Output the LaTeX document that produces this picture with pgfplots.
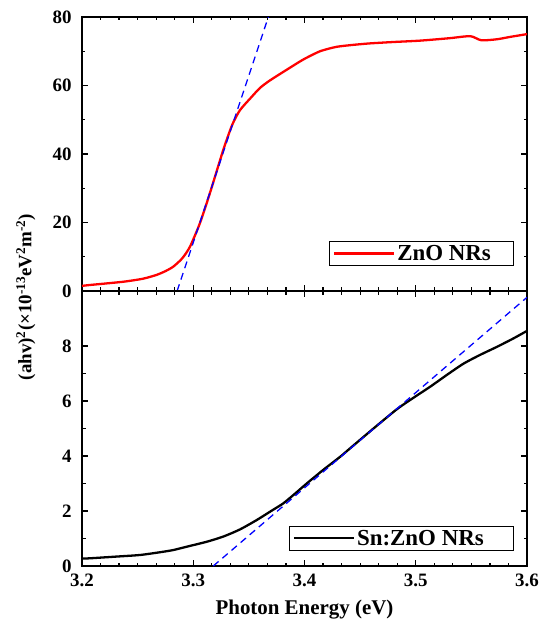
\documentclass[border=0pt]{standalone}
\usepackage{fontspec}
\setmainfont{Liberation Serif}
\usepackage{pgfplots}
\pgfplotsset{compat=1.18}
\definecolor{myred}{RGB}{255,0,0}
\definecolor{myblue}{RGB}{0,0,255}
\newcommand{\fs}[1]{\fontsize{#1}{#1}\selectfont}
\begin{document}
\begin{tikzpicture}
\useasboundingbox (-82bp,-329bp) rectangle (458bp,291bp);
\pgfplotsset{
  every axis/.append style={
    scale only axis, width=445bp,
    xmin=3.2, xmax=3.6,
    axis line style={line width=1.6pt},
    every tick/.style={line width=1.2pt, black},
    major tick length=6bp, minor tick length=3.5bp,
    tick align=inside,
    minor x tick num=5, minor y tick num=1,
    /pgf/number format/assume math mode=true,
    ticklabel style={font=\bfseries\fs{19}},
    yticklabel style={xshift=-7bp},
    legend cell align=left,
    legend image code/.code={\draw[#1] (0bp,0bp) -- (60bp,0bp);},
  }
}
\begin{axis}[
  name=top, at={(0,0)}, anchor=south west,
  height=274bp,
  ymin=0, ymax=80, ytick={0,20,40,60,80},
  xtick={3.2,3.3,3.4,3.5,3.6}, xticklabels={},
  legend style={at={(0.969,0.091)}, anchor=south east, draw=black, line width=0.6pt,
    font=\bfseries\fs{23}, inner xsep=4bp, inner ysep=2bp},
]
\addplot[myred, line width=2.3pt, smooth, tension=0.4] coordinates {
(3.200,1.5) (3.207,1.75) (3.237,2.7) (3.255,3.6) (3.267,4.7) (3.275,5.8) (3.282,7.1)
(3.290,9.5) (3.297,12.9) (3.306,19.8) (3.315,28.6) (3.327,41.2) (3.335,48.5)
(3.342,52.8) (3.352,56.5) (3.360,59.3) (3.369,61.5) (3.385,64.8) (3.399,67.6)
(3.414,70.0) (3.429,71.3) (3.445,71.9) (3.459,72.3) (3.480,72.7) (3.504,73.1)
(3.530,73.8) (3.549,74.4) (3.559,73.2) (3.573,73.5) (3.585,74.2) (3.600,75.0)
};
\addlegendentry{ZnO NRs\hspace*{16bp}}
\addplot[myblue, line width=1.3pt, dash pattern=on 7bp off 5bp, forget plot] coordinates {
(3.2855,0) (3.3675,80)
};
\end{axis}
\begin{axis}[
  name=bot, at={(top.south west)}, anchor=north west,
  height=275bp,
  ymin=0, ymax=10, ytick={0,2,4,6,8},
  xtick={3.2,3.3,3.4,3.5,3.6},
  xticklabel style={yshift=-4bp, /pgf/number format/fixed, /pgf/number format/fixed zerofill, /pgf/number format/precision=1},
  xlabel={\bfseries\fs{21}Photon Energy (eV)},
  xlabel style={yshift=-7bp},
  legend style={at={(0.971,0.055)}, anchor=south east, draw=black, line width=0.6pt,
    font=\bfseries\fs{23}, inner xsep=4bp, inner ysep=2bp},
]
\addplot[black, line width=2.3pt, smooth, tension=0.4] coordinates {
(3.200,0.27) (3.207,0.28) (3.230,0.34) (3.252,0.40) (3.270,0.50) (3.282,0.58)
(3.297,0.73) (3.312,0.88) (3.327,1.07) (3.342,1.33) (3.357,1.67) (3.370,2.00)
(3.381,2.28) (3.392,2.65) (3.402,3.00) (3.417,3.50) (3.432,3.97) (3.441,4.28)
(3.462,5.00) (3.483,5.70) (3.498,6.12) (3.513,6.52) (3.528,6.95) (3.543,7.36)
(3.558,7.68) (3.573,7.97) (3.588,8.28) (3.600,8.55)
};
\addlegendentry{Sn:ZnO NRs\hspace*{24bp}}
\addplot[myblue, line width=1.3pt, dash pattern=on 7bp off 5bp, forget plot] coordinates {
(3.318,0) (3.600,9.77)
};
\end{axis}
\node[rotate=90, font=\bfseries\fs{19}] at (-56bp,-6bp)
  {(ahv)\textsuperscript{2}(×10\textsuperscript{-13}eV\textsuperscript{2}m\textsuperscript{-2})};
\end{tikzpicture}
\end{document}
